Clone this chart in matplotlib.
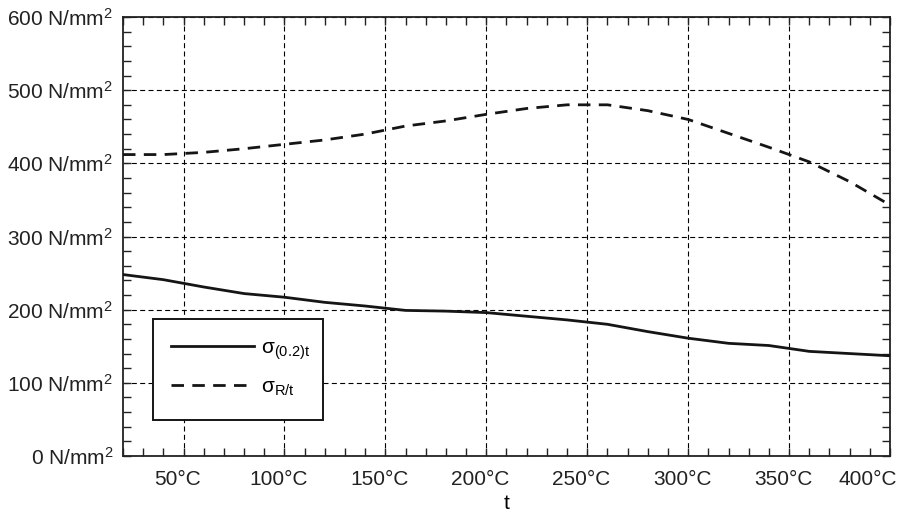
import matplotlib
matplotlib.use('Agg')
import matplotlib.pyplot as plt
import matplotlib.transforms as mtransforms
from matplotlib.patches import Rectangle
from matplotlib.ticker import MultipleLocator

plt.rcParams['font.family'] = ['Liberation Sans', 'DejaVu Sans']
plt.rcParams['mathtext.fontset'] = 'custom'
plt.rcParams['mathtext.rm'] = 'Liberation Sans'
plt.rcParams['mathtext.it'] = 'Liberation Sans:italic'
plt.rcParams['mathtext.default'] = 'regular'

# temperature in degC
temps = [20, 40, 60, 80, 100, 120, 140, 160, 180, 200,
         220, 240, 260, 280, 300, 320, 340, 360, 380, 400]
# yield strength sigma(0.2)t in N/mm2
sigma_02 = [248, 241, 231, 222, 217, 210, 205, 199, 198, 196,
            191, 186, 180, 170, 161, 154, 151, 143, 140, 137]
# tensile strength sigma R/t in N/mm2
sigma_r = [412, 412, 415, 420, 426, 432, 440, 451, 458, 467,
           475, 480, 480, 472, 460, 441, 422, 402, 375, 343]

x_ticks = [50, 100, 150, 200, 250, 300, 350, 400]
y_ticks = [0, 100, 200, 300, 400, 500, 600]
label_02 = r'$σ_{(0.2)t}$'
label_r = r'$σ_{R/t}$'

fig = plt.figure(figsize=(9.01, 5.19), dpi=100)
ax = fig.add_axes([0.1365, 0.1214, 0.8513, 0.8458])

lw = 2.0
ax.plot(temps, sigma_02, color='#151515', lw=lw, label=label_02, zorder=3)
ax.plot(temps, sigma_r, color='#151515', lw=lw, dashes=(4.5, 3), label=label_r, zorder=3)

ax.set_xlim(20, 400)
ax.set_ylim(0, 600)
ax.set_xticks(x_ticks)
ax.set_xticklabels([f'{v}°C' for v in x_ticks])
ax.set_yticks(y_ticks)
ax.set_yticklabels([f'{v} N/mm$^2$' for v in y_ticks])
ax.xaxis.set_minor_locator(MultipleLocator(10))
ax.yaxis.set_minor_locator(MultipleLocator(20))
ax.tick_params(which='both', direction='in', top=True, right=True,
               labelsize=15, colors='#222222', width=1.0)
ax.tick_params(which='major', length=6)
ax.tick_params(which='minor', length=6)
ax.tick_params(axis='x', which='major', pad=10)
ax.tick_params(axis='y', which='major', pad=7)
for s in ax.spines.values():
    s.set_linewidth(1.3)
    s.set_color('#222222')

# x tick labels sit a little left of their ticks, last one kept inside the figure
xlabels = ax.get_xticklabels()
for lab in xlabels[:-1]:
    lab.set_transform(lab.get_transform() +
                      mtransforms.ScaledTranslation(-6 / 100, 0, fig.dpi_scale_trans))
xlabels[-1].set_horizontalalignment('right')
xlabels[-1].set_transform(xlabels[-1].get_transform() +
                          mtransforms.ScaledTranslation(7 / 100, 0, fig.dpi_scale_trans))

ax.grid(True, which='major', color='black', lw=0.8, linestyle=(0, (4.5, 3)))
ax.set_axisbelow(True)
ax.set_xlabel('t', fontsize=15, labelpad=4)

# legend box
ax.add_patch(Rectangle((0.039, 0.082), 0.222, 0.230, transform=ax.transAxes,
                       facecolor='white', edgecolor='#151515', lw=1.4, zorder=4))
ax.legend(loc='upper left', bbox_to_anchor=(0.062, 0.268), frameon=False,
          fontsize=15, handlelength=4.0, handletextpad=0.35, labelspacing=0.75,
          borderpad=0, borderaxespad=0).set_zorder(5)

fig.savefig('out.png', dpi=100)
